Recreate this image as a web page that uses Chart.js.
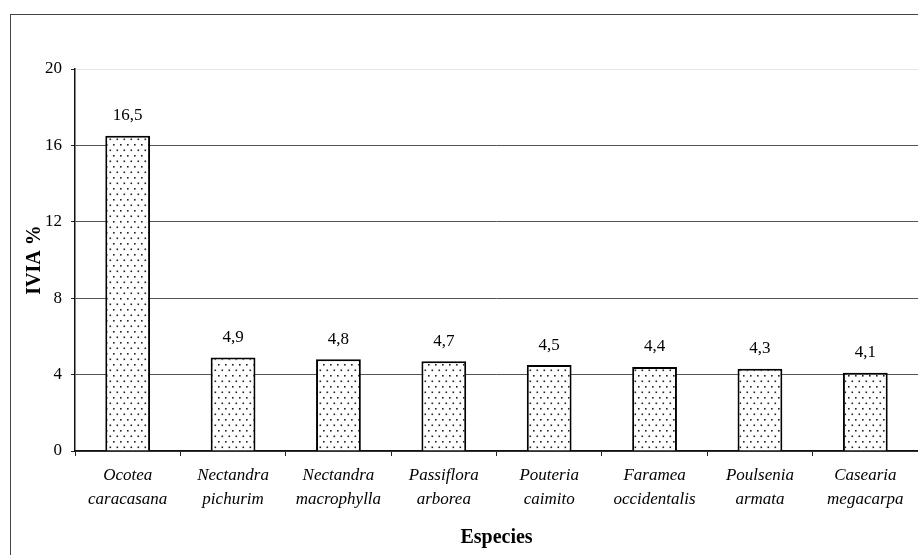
<!DOCTYPE html>
<html>
<head>
<meta charset="utf-8">
<script src="https://cdn.jsdelivr.net/npm/chart.js@4/dist/chart.umd.min.js"></script>
<style>
  html, body { margin: 0; padding: 0; background: #fff; }
  #wrap { position: relative; width: 918px; height: 555px; }
  #frame { position: absolute; left: 10px; top: 14px; right: 0; bottom: 0;
           border-left: 1px solid #444; border-top: 1px solid #444; pointer-events: none; }
  canvas { position: absolute; left: 0; top: 0; }
</style>
</head>
<body>
<div id="wrap">
  <canvas id="c" width="918" height="555"></canvas>
  <div id="frame"></div>
</div>
<script>
// Species (two-line labels) and importance values (IVIA %)
const species = [
  ["Ocotea", "caracasana"],
  ["Nectandra", "pichurim"],
  ["Nectandra", "macrophylla"],
  ["Passiflora", "arborea"],
  ["Pouteria", "caimito"],
  ["Faramea", "occidentalis"],
  ["Poulsenia", "armata"],
  ["Casearia", "megacarpa"]
];
const ivia = [16.5, 4.9, 4.8, 4.7, 4.5, 4.4, 4.3, 4.1];
const yTicks = [0, 4, 8, 12, 16, 20];

const SERIF = "'Liberation Serif', 'Times New Roman', serif";

// Stippled fill for the bars
function dotPattern() {
  const t = document.createElement('canvas');
  t.width = 7; t.height = 11;
  const g = t.getContext('2d');
  g.fillStyle = '#fff';
  g.fillRect(0, 0, 7, 11);
  g.fillStyle = '#222';
  g.fillRect(1, 1, 1.6, 1.6);
  g.fillRect(4.5, 6.5, 1.6, 1.6);
  return document.getElementById('c').getContext('2d').createPattern(t, 'repeat');
}

// Values written above each bar with a decimal comma
const valueLabels = {
  id: 'valueLabels',
  afterDatasetsDraw(chart) {
    const ctx = chart.ctx;
    const meta = chart.getDatasetMeta(0);
    ctx.save();
    ctx.font = '17px ' + SERIF;
    ctx.fillStyle = '#000';
    ctx.textAlign = 'center';
    ctx.textBaseline = 'middle';
    meta.data.forEach((bar, i) => {
      const v = chart.data.datasets[0].data[i];
      ctx.fillText(v.toFixed(1).replace('.', ','), bar.x, bar.y - 20);
    });
    ctx.restore();
  }
};

new Chart(document.getElementById('c'), {
  type: 'bar',
  data: {
    labels: species,
    datasets: [{
      data: ivia,
      backgroundColor: dotPattern(),
      borderColor: '#000',
      borderWidth: 2,
      barPercentage: 0.425,
      categoryPercentage: 1
    }]
  },
  options: {
    responsive: false,
    animation: false,
    events: [],
    layout: { padding: { left: 10, top: 69, right: 0, bottom: 0 } },
    plugins: { legend: { display: false }, tooltip: { enabled: false } },
    scales: {
      x: {
        afterFit(s) { s.height = 104; },
        grid: { drawOnChartArea: false, drawTicks: true, tickLength: 5, tickColor: '#222', offset: true },
        border: { color: '#111', width: 1.5 },
        ticks: {
          color: '#000',
          padding: 8,
          maxRotation: 0,
          autoSkip: false,
          font: { family: SERIF, size: 17, style: 'italic', lineHeight: 1.4 }
        },
        title: {
          display: true,
          text: 'Especies',
          color: '#000',
          padding: { top: 0, bottom: 5 },
          font: { family: SERIF, size: 20, weight: 'bold' }
        }
      },
      y: {
        min: 0,
        max: 20,
        afterFit(s) { s.width = 65; },
        afterBuildTicks(s) { s.ticks = yTicks.map(v => ({ value: v })); },
        grid: {
          color: c => (c.tick && c.tick.value === 20) ? 'rgba(0,0,0,0.1)' : '#555',
          lineWidth: 1,
          tickLength: 4,
          tickColor: '#222'
        },
        border: { color: '#111', width: 1.5 },
        ticks: {
          color: '#000',
          padding: 9,
          font: { family: SERIF, size: 17 }
        },
        title: {
          display: true,
          text: 'IVIA %',
          color: '#000',
          padding: { top: 13, bottom: 0 },
          font: { family: SERIF, size: 20, weight: 'bold' }
        }
      }
    }
  },
  plugins: [valueLabels]
});
</script>
</body>
</html>
